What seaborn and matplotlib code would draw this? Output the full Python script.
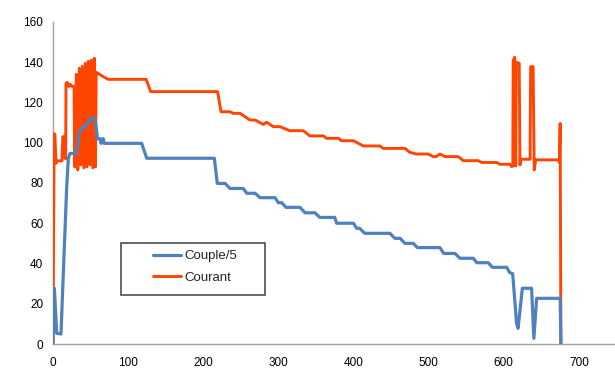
import numpy as np
import pandas as pd
import matplotlib
matplotlib.use("Agg")
import matplotlib.pyplot as plt
from matplotlib.patches import Rectangle
import seaborn as sns

# --- data ---
couple_x = [0, 1.8, 4.9, 10.6, 13.7, 18.2, 20.4, 22.6, 31.5, 34.6, 38, 42.6, 44, 47, 49.2, 56,
            58, 59, 62.5, 64, 66, 67, 68, 118, 124.7, 214.7, 218.7, 229, 235.5, 253, 258, 269,
            275.5, 295.5, 300, 304.6, 310, 328.7, 335.4, 348.7, 355, 375, 377.6, 400, 404, 408,
            415, 448.5, 455, 462, 468.5, 479.5, 485, 515, 520, 535, 541.6, 559.4, 564, 579.4,
            584.7, 603.8, 608, 611.8, 617, 619, 624.7, 637, 640, 643.7, 675, 676]
couple_y = [0, 27.7, 5.3, 5, 35, 78, 92.3, 94.7, 94.7, 104.7, 107.5, 107.5, 109.6, 110, 112, 112,
            106, 102, 102, 99.7, 102, 102, 99.7, 99.7, 92.3, 92.3, 79.8, 79.8, 77.3, 77.3, 74.9, 74.9,
            72.7, 72.7, 70.2, 70.2, 67.9, 67.9, 65.2, 65.2, 62.9, 62.9, 60, 60, 57.5, 57.5,
            55, 55, 52.5, 52.5, 50, 50, 47.9, 47.9, 45, 45, 42.6, 42.6, 40.4, 40.4,
            38.1, 38.1, 35.4, 35, 10.3, 7.8, 27.7, 27.7, 2.8, 22.7, 22.7, 0]

courant_x = [0, 1.5, 2.5, 4, 5.8, 12, 13, 14.6, 15.8, 16.8, 17.3, 19, 21, 23, 25, 28,
             # noisy zone
             29, 31, 33, 35, 37, 39, 41, 43, 45, 47, 49, 51, 53, 55, 56.5,
             57.5, 62, 67, 73.6, 124, 130, 219, 223.6, 235.5, 240, 249, 262, 269, 280, 284.4,
             293, 302, 315, 333, 342, 360, 364, 380, 384, 400, 413, 435, 439.6, 468.5, 475, 484,
             499.5, 506, 510, 515, 521.7, 539.4, 546, 566, 570.5, 590.5, 595, 608, 610.5, 612,
             612.5, 614.5, 615, 616, 616.5, 620.5, 621.5, 622.5, 635, 635.7, 639, 640.5, 642.5,
             672.5, 674, 675, 676]
courant_y = [0, 104.5, 104, 89.8, 91, 91, 103, 103, 93, 92, 129.5, 130, 128, 129, 128, 128,
             88, 134, 86.5, 137, 89, 138, 87.5, 139.5, 88, 140.5, 89, 141, 87.5, 142, 88,
             135, 134, 132.8, 131.5, 131.5, 125.4, 125.4, 115.4, 115.4, 114.6, 114.6, 111.3, 111.3, 109.1, 110.2,
             108, 108, 106, 106, 103.4, 103.4, 102.2, 102.2, 101, 101, 98.4, 98.4, 97.2, 97.2, 95.2, 94.4,
             94.4, 93.1, 93.1, 94.4, 93.1, 93.1, 91.1, 91.1, 90.2, 90.2, 89.3, 89.3, 88.1, 88.5,
             141, 142.5, 88.5, 88.5, 140, 139.5, 89, 91.8, 91.8, 137.8, 137.8, 86.5, 91.5,
             91.5, 90.2, 109.6, 0]

x_ticks = [0, 100, 200, 300, 400, 500, 600, 700]
y_ticks = [0, 20, 40, 60, 80, 100, 120, 140, 160]

BLUE = "#4F81BD"
ORANGE = "#FF4500"

sns.set_style("white")
plt.rcParams['font.family'] = ['Liberation Sans', 'DejaVu Sans']

fig = plt.figure(figsize=(6.15, 3.83), dpi=100)
ax = fig.add_axes([0.0862, 0.1018, 0.9138, 0.8408])

sns.lineplot(x=couple_x, y=couple_y, estimator=None, sort=False, color=BLUE,
             linewidth=2.3, label="Couple/5", ax=ax, zorder=4)
sns.lineplot(x=courant_x, y=courant_y, estimator=None, sort=False, color=ORANGE,
             linewidth=2.1, label="Courant", ax=ax, zorder=3)

ax.set_xlim(0, 748)
ax.set_ylim(0, 160)
ax.set_xticks(x_ticks)
ax.set_yticks(y_ticks)
ax.tick_params(axis="both", direction="out", length=4, width=1, color="#A0A0A0",
               labelsize=8.5, pad=3, labelcolor="#000000")
ax.tick_params(axis="x", pad=5)
for side in ["top", "right"]:
    ax.spines[side].set_visible(False)
for side in ["left", "bottom"]:
    ax.spines[side].set_color("#A0A0A0")
    ax.spines[side].set_linewidth(1.0)
ax.set_xlabel("")
ax.set_ylabel("")

# legend box drawn by hand, entries placed inside it
ax.add_patch(Rectangle((0.121, 0.152), 0.256, 0.1626, transform=ax.transAxes,
                       facecolor="white", edgecolor="#404040", linewidth=1.1,
                       clip_on=False, zorder=5))
leg = ax.legend(loc="upper left", bbox_to_anchor=(0.178, 0.292), frameon=False,
                fontsize=9.5, handlelength=2.1, handletextpad=0.25, labelspacing=0.7,
                borderpad=0, borderaxespad=0)
leg.set_zorder(6)

fig.savefig("out.png", dpi=100)
